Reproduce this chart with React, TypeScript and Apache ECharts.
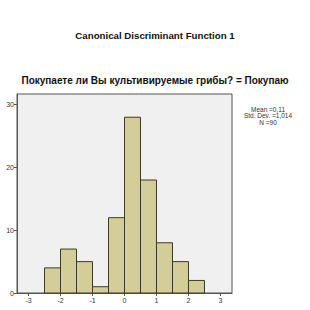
import React, { useEffect, useRef } from "react";
import * as echarts from "echarts";

const binStarts = [-2.5, -2.0, -1.5, -1.0, -0.5, 0.0, 0.5, 1.0, 1.5, 2.0];
const binWidth = 0.5;
const counts = [4, 7, 5, 1, 12, 28, 18, 8, 5, 2];
const xTicks = [-3, -2, -1, 0, 1, 2, 3];
const yTicks = [0, 10, 20, 30];
const mainTitle = "Canonical Discriminant Function 1";
const subTitle = "Покупаете ли Вы культивируемые грибы? = Покупаю";
const statsLines = ["Mean =0,11", "Std. Dev. =1,014", "N =90"];

export default function App() {
  const ref = useRef<HTMLDivElement>(null);
  useEffect(() => {
    if (!ref.current) return;
    const chart = echarts.init(ref.current, null, { renderer: "svg" });
    const data = binStarts.map((s, i) => [s, s + binWidth, counts[i]]);
    chart.setOption({
      animation: false,
      backgroundColor: "#ffffff",
      textStyle: { fontFamily: "Liberation Sans, Arial, sans-serif" },
      title: [
        {
          text: mainTitle,
          left: "center",
          top: 30,
          padding: 0,
          textStyle: { fontSize: 9.7, fontWeight: "bold", color: "#111" },
        },
        {
          text: subTitle,
          left: "center",
          top: 75,
          padding: 0,
          textStyle: { fontSize: 10, fontWeight: "bold", color: "#111" },
        },
      ],
      graphic: [
        {
          type: "text",
          x: 268,
          y: 106,
          style: {
            text: statsLines.join("\n"),
            align: "center",
            fontSize: 6.5,
            lineHeight: 6.5,
            fill: "#333",
            fontFamily: "Liberation Sans, Arial, sans-serif",
          },
        },
      ],
      grid: {
        left: 17,
        right: 78,
        top: 94,
        bottom: 17,
        show: true,
        backgroundColor: "#f0f0f0",
        borderColor: "#555",
        borderWidth: 1,
      },
      xAxis: {
        type: "value",
        min: -3.36,
        max: 3.36,
        splitLine: { show: false },
        axisLine: { show: true, onZero: false, lineStyle: { color: "#555" } },
        axisTick: { show: true, length: 3, customValues: xTicks, lineStyle: { color: "#555" } },
        axisLabel: { customValues: xTicks, fontSize: 7, color: "#333", margin: 4 },
      },
      yAxis: {
        type: "value",
        min: 0,
        max: 31.7,
        splitLine: { show: false },
        axisLine: { show: true, onZero: false, lineStyle: { color: "#555" } },
        axisTick: { show: true, length: 3, customValues: yTicks, lineStyle: { color: "#555" } },
        axisLabel: { customValues: yTicks, fontSize: 7, color: "#333", margin: 3 },
      },
      series: [
        {
          type: "custom",
          data,
          encode: { x: [0, 1], y: 2 },
          renderItem: (params: any, api: any) => {
            const x0 = api.value(0);
            const x1 = api.value(1);
            const c = api.value(2);
            const p0 = api.coord([x0, c]);
            const p1 = api.coord([x1, 0]);
            return {
              type: "rect",
              shape: { x: p0[0], y: p0[1], width: p1[0] - p0[0], height: p1[1] - p0[1] },
              style: { fill: "#d3ce97", stroke: "#3b3a2a", lineWidth: 1 },
            };
          },
        },
      ],
    });
    return () => chart.dispose();
  }, []);
  return (
    <div
      ref={ref}
      style={{ position: "fixed", left: 0, top: 0, width: 310, height: 310 }}
    />
  );
}
